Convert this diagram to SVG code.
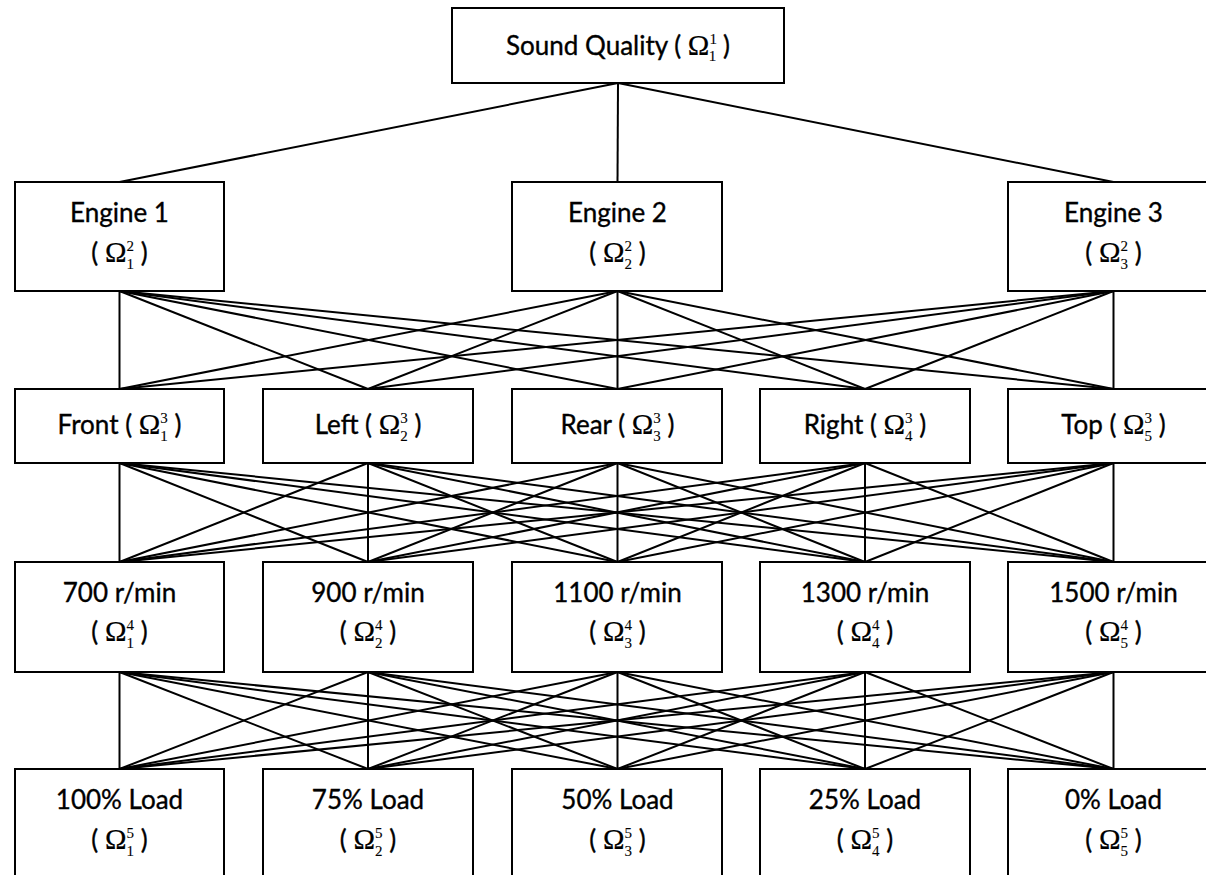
<svg xmlns="http://www.w3.org/2000/svg" width="1206" height="875" viewBox="0 0 1206 875">
<style>
.box{fill:#fff;stroke:#000;stroke-width:2}
.lbl{font-family:Lato,"Open Sans","Liberation Sans",sans-serif;font-size:26px;fill:#000;stroke:#000;stroke-width:0.35;text-anchor:middle}
.om{font-family:"Liberation Serif","DejaVu Serif",serif;font-size:29px;stroke-width:0.2}
.s{font-family:"Liberation Serif","DejaVu Serif",serif;font-size:15px;stroke-width:0.1}
.cn line{stroke:#000;stroke-width:2}
</style>
<rect width="1206" height="875" fill="#fff"/>
<g class="cn" id="connectors">
<line x1="618" y1="83" x2="119.5" y2="182"/>
<line x1="618" y1="83" x2="617.5" y2="182"/>
<line x1="618" y1="83" x2="1113.5" y2="182"/>
<line x1="119.5" y1="291" x2="119.5" y2="389"/><line x1="119.5" y1="291" x2="368" y2="389"/><line x1="119.5" y1="291" x2="617.5" y2="389"/><line x1="119.5" y1="291" x2="865" y2="389"/><line x1="119.5" y1="291" x2="1113.5" y2="389"/>
<line x1="617.5" y1="291" x2="119.5" y2="389"/><line x1="617.5" y1="291" x2="368" y2="389"/><line x1="617.5" y1="291" x2="617.5" y2="389"/><line x1="617.5" y1="291" x2="865" y2="389"/><line x1="617.5" y1="291" x2="1113.5" y2="389"/>
<line x1="1113.5" y1="291" x2="119.5" y2="389"/><line x1="1113.5" y1="291" x2="368" y2="389"/><line x1="1113.5" y1="291" x2="617.5" y2="389"/><line x1="1113.5" y1="291" x2="865" y2="389"/><line x1="1113.5" y1="291" x2="1113.5" y2="389"/>
<line x1="119.5" y1="463" x2="119.5" y2="562"/><line x1="119.5" y1="463" x2="368" y2="562"/><line x1="119.5" y1="463" x2="617.5" y2="562"/><line x1="119.5" y1="463" x2="865" y2="562"/><line x1="119.5" y1="463" x2="1113.5" y2="562"/>
<line x1="368" y1="463" x2="119.5" y2="562"/><line x1="368" y1="463" x2="368" y2="562"/><line x1="368" y1="463" x2="617.5" y2="562"/><line x1="368" y1="463" x2="865" y2="562"/><line x1="368" y1="463" x2="1113.5" y2="562"/>
<line x1="617.5" y1="463" x2="119.5" y2="562"/><line x1="617.5" y1="463" x2="368" y2="562"/><line x1="617.5" y1="463" x2="617.5" y2="562"/><line x1="617.5" y1="463" x2="865" y2="562"/><line x1="617.5" y1="463" x2="1113.5" y2="562"/>
<line x1="865" y1="463" x2="119.5" y2="562"/><line x1="865" y1="463" x2="368" y2="562"/><line x1="865" y1="463" x2="617.5" y2="562"/><line x1="865" y1="463" x2="865" y2="562"/><line x1="865" y1="463" x2="1113.5" y2="562"/>
<line x1="1113.5" y1="463" x2="119.5" y2="562"/><line x1="1113.5" y1="463" x2="368" y2="562"/><line x1="1113.5" y1="463" x2="617.5" y2="562"/><line x1="1113.5" y1="463" x2="865" y2="562"/><line x1="1113.5" y1="463" x2="1113.5" y2="562"/>
<line x1="119.5" y1="672" x2="119.5" y2="769"/><line x1="119.5" y1="672" x2="368" y2="769"/><line x1="119.5" y1="672" x2="617.5" y2="769"/><line x1="119.5" y1="672" x2="865" y2="769"/><line x1="119.5" y1="672" x2="1113.5" y2="769"/>
<line x1="368" y1="672" x2="119.5" y2="769"/><line x1="368" y1="672" x2="368" y2="769"/><line x1="368" y1="672" x2="617.5" y2="769"/><line x1="368" y1="672" x2="865" y2="769"/><line x1="368" y1="672" x2="1113.5" y2="769"/>
<line x1="617.5" y1="672" x2="119.5" y2="769"/><line x1="617.5" y1="672" x2="368" y2="769"/><line x1="617.5" y1="672" x2="617.5" y2="769"/><line x1="617.5" y1="672" x2="865" y2="769"/><line x1="617.5" y1="672" x2="1113.5" y2="769"/>
<line x1="865" y1="672" x2="119.5" y2="769"/><line x1="865" y1="672" x2="368" y2="769"/><line x1="865" y1="672" x2="617.5" y2="769"/><line x1="865" y1="672" x2="865" y2="769"/><line x1="865" y1="672" x2="1113.5" y2="769"/>
<line x1="1113.5" y1="672" x2="119.5" y2="769"/><line x1="1113.5" y1="672" x2="368" y2="769"/><line x1="1113.5" y1="672" x2="617.5" y2="769"/><line x1="1113.5" y1="672" x2="865" y2="769"/><line x1="1113.5" y1="672" x2="1113.5" y2="769"/>
</g>

<g id="sound-quality"><rect class="box" x="452" y="8" width="332" height="75"/>
<text class="lbl" x="618" y="55">Sound Quality ( <tspan class="om">Ω</tspan><tspan class="s" dy="-11">1</tspan><tspan class="s" dx="-7.5" dy="17">1</tspan><tspan dy="-6"> )</tspan></text></g>

<g id="engine1"><rect class="box" x="15" y="182" width="209" height="109"/>
<text class="lbl" x="119.5" y="222">Engine 1</text>
<text class="lbl" x="119.5" y="262">( <tspan class="om">Ω</tspan><tspan class="s" dy="-11">2</tspan><tspan class="s" dx="-7.5" dy="18">1</tspan><tspan dy="-7"> )</tspan></text></g>
<g id="engine2"><rect class="box" x="512" y="182" width="210" height="109"/>
<text class="lbl" x="617.5" y="222">Engine 2</text>
<text class="lbl" x="617.5" y="262">( <tspan class="om">Ω</tspan><tspan class="s" dy="-11">2</tspan><tspan class="s" dx="-7.5" dy="18">2</tspan><tspan dy="-7"> )</tspan></text></g>
<g id="engine3"><rect class="box" x="1008" y="182" width="211" height="109"/>
<text class="lbl" x="1113.5" y="222">Engine 3</text>
<text class="lbl" x="1113.5" y="262">( <tspan class="om">Ω</tspan><tspan class="s" dy="-11">2</tspan><tspan class="s" dx="-7.5" dy="18">3</tspan><tspan dy="-7"> )</tspan></text></g>

<g id="front"><rect class="box" x="15" y="389" width="209" height="74"/>
<text class="lbl" x="119.5" y="434">Front ( <tspan class="om">Ω</tspan><tspan class="s" dy="-11">3</tspan><tspan class="s" dx="-7.5" dy="18">1</tspan><tspan dy="-7"> )</tspan></text></g>
<g id="left"><rect class="box" x="263" y="389" width="210" height="74"/>
<text class="lbl" x="368" y="434">Left ( <tspan class="om">Ω</tspan><tspan class="s" dy="-11">3</tspan><tspan class="s" dx="-7.5" dy="18">2</tspan><tspan dy="-7"> )</tspan></text></g>
<g id="rear"><rect class="box" x="512" y="389" width="210" height="74"/>
<text class="lbl" x="617.5" y="434">Rear ( <tspan class="om">Ω</tspan><tspan class="s" dy="-11">3</tspan><tspan class="s" dx="-7.5" dy="18">3</tspan><tspan dy="-7"> )</tspan></text></g>
<g id="right"><rect class="box" x="760" y="389" width="210" height="74"/>
<text class="lbl" x="865" y="434">Right ( <tspan class="om">Ω</tspan><tspan class="s" dy="-11">3</tspan><tspan class="s" dx="-7.5" dy="18">4</tspan><tspan dy="-7"> )</tspan></text></g>
<g id="top"><rect class="box" x="1008" y="389" width="211" height="74"/>
<text class="lbl" x="1113.5" y="434">Top ( <tspan class="om">Ω</tspan><tspan class="s" dy="-11">3</tspan><tspan class="s" dx="-7.5" dy="18">5</tspan><tspan dy="-7"> )</tspan></text></g>

<g id="rpm700"><rect class="box" x="15" y="562" width="209" height="110"/>
<text class="lbl" x="119.5" y="602">700 r/min</text>
<text class="lbl" x="119.5" y="641">( <tspan class="om">Ω</tspan><tspan class="s" dy="-11">4</tspan><tspan class="s" dx="-7.5" dy="18">1</tspan><tspan dy="-7"> )</tspan></text></g>
<g id="rpm900"><rect class="box" x="263" y="562" width="210" height="110"/>
<text class="lbl" x="368" y="602">900 r/min</text>
<text class="lbl" x="368" y="641">( <tspan class="om">Ω</tspan><tspan class="s" dy="-11">4</tspan><tspan class="s" dx="-7.5" dy="18">2</tspan><tspan dy="-7"> )</tspan></text></g>
<g id="rpm1100"><rect class="box" x="512" y="562" width="210" height="110"/>
<text class="lbl" x="617.5" y="602">1100 r/min</text>
<text class="lbl" x="617.5" y="641">( <tspan class="om">Ω</tspan><tspan class="s" dy="-11">4</tspan><tspan class="s" dx="-7.5" dy="18">3</tspan><tspan dy="-7"> )</tspan></text></g>
<g id="rpm1300"><rect class="box" x="760" y="562" width="210" height="110"/>
<text class="lbl" x="865" y="602">1300 r/min</text>
<text class="lbl" x="865" y="641">( <tspan class="om">Ω</tspan><tspan class="s" dy="-11">4</tspan><tspan class="s" dx="-7.5" dy="18">4</tspan><tspan dy="-7"> )</tspan></text></g>
<g id="rpm1500"><rect class="box" x="1008" y="562" width="211" height="110"/>
<text class="lbl" x="1113.5" y="602">1500 r/min</text>
<text class="lbl" x="1113.5" y="641">( <tspan class="om">Ω</tspan><tspan class="s" dy="-11">4</tspan><tspan class="s" dx="-7.5" dy="18">5</tspan><tspan dy="-7"> )</tspan></text></g>

<g id="load100"><rect class="box" x="15" y="769" width="209" height="120"/>
<text class="lbl" x="119.5" y="809">100% Load</text>
<text class="lbl" x="119.5" y="849">( <tspan class="om">Ω</tspan><tspan class="s" dy="-11">5</tspan><tspan class="s" dx="-7.5" dy="18">1</tspan><tspan dy="-7"> )</tspan></text></g>
<g id="load75"><rect class="box" x="263" y="769" width="210" height="120"/>
<text class="lbl" x="368" y="809">75% Load</text>
<text class="lbl" x="368" y="849">( <tspan class="om">Ω</tspan><tspan class="s" dy="-11">5</tspan><tspan class="s" dx="-7.5" dy="18">2</tspan><tspan dy="-7"> )</tspan></text></g>
<g id="load50"><rect class="box" x="512" y="769" width="210" height="120"/>
<text class="lbl" x="617.5" y="809">50% Load</text>
<text class="lbl" x="617.5" y="849">( <tspan class="om">Ω</tspan><tspan class="s" dy="-11">5</tspan><tspan class="s" dx="-7.5" dy="18">3</tspan><tspan dy="-7"> )</tspan></text></g>
<g id="load25"><rect class="box" x="760" y="769" width="210" height="120"/>
<text class="lbl" x="865" y="809">25% Load</text>
<text class="lbl" x="865" y="849">( <tspan class="om">Ω</tspan><tspan class="s" dy="-11">5</tspan><tspan class="s" dx="-7.5" dy="18">4</tspan><tspan dy="-7"> )</tspan></text></g>
<g id="load0"><rect class="box" x="1008" y="769" width="211" height="120"/>
<text class="lbl" x="1113.5" y="809">0% Load</text>
<text class="lbl" x="1113.5" y="849">( <tspan class="om">Ω</tspan><tspan class="s" dy="-11">5</tspan><tspan class="s" dx="-7.5" dy="18">5</tspan><tspan dy="-7"> )</tspan></text></g>
</svg>
